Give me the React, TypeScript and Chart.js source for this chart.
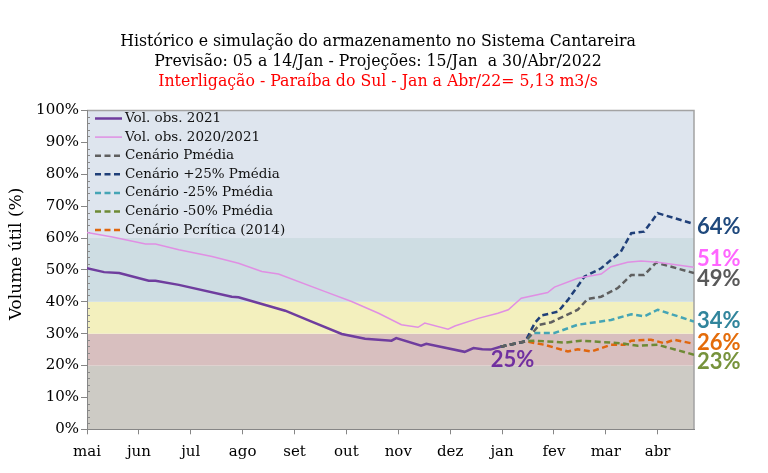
import React, { useEffect, useRef } from "react";
import { Chart, registerables } from "chart.js";

Chart.register(...registerables);

// ---------- data (x = months since 1 May 2021, y = % volume útil) ----------
const MONTHS = ["mai", "jun", "jul", "ago", "set", "out", "nov", "dez", "jan", "fev", "mar", "abr"];
const X_MAX = 11.7;

const TITLE_LINES = [
  "Histórico e simulação do armazenamento no Sistema Cantareira",
  "Previsão: 05 a 14/Jan - Projeções: 15/Jan  a 30/Abr/2022",
];
const SUBTITLE = "Interligação - Paraíba do Sul - Jan a Abr/22= 5,13 m3/s";
const Y_TITLE = "Volume útil (%)";

const OBS_2021: [number, number][] = [
  [0, 50.5], [0.33, 49.3], [0.62, 49.0], [1.19, 46.6], [1.32, 46.6], [1.77, 45.3],
  [2.79, 41.6], [2.92, 41.4], [3.82, 37.2], [4.33, 33.8], [4.91, 29.9], [5.36, 28.4],
  [5.87, 27.8], [5.96, 28.6], [6.44, 26.2], [6.54, 26.8], [7.28, 24.3], [7.45, 25.5],
  [7.62, 25.1], [7.78, 25.0], [7.97, 25.9],
];

const OBS_2020_2021: [number, number][] = [
  [0, 61.7], [0.49, 60.3], [1.13, 58.1], [1.32, 58.1], [1.77, 56.3], [2.41, 54.2],
  [2.92, 52.1], [3.37, 49.5], [3.69, 48.7], [4.59, 43.2], [5.1, 40.1], [5.62, 36.4],
  [6.06, 32.8], [6.38, 32.0], [6.51, 33.3], [6.96, 31.4], [7.09, 32.4], [7.54, 34.8],
  [7.92, 36.4], [8.12, 37.5], [8.37, 41.1], [8.88, 42.9], [9.01, 44.6], [9.46, 47.4],
  [9.91, 48.7], [10.1, 51.0], [10.42, 52.4], [10.68, 52.8], [11.0, 52.4], [11.7, 50.8],
];

const SCEN_START: [number, number][] = [[7.97, 25.9], [8.45, 27.6]];

const SCEN_PMEDIA: [number, number][] = [
  [8.72, 32.8], [8.95, 33.6], [9.46, 37.5], [9.65, 40.9], [9.91, 41.6], [10.23, 44.3],
  [10.49, 48.4], [10.74, 48.4], [10.97, 52.3], [11.7, 49.0],
];
const SCEN_P25: [number, number][] = [
  [8.63, 33.3], [8.76, 35.7], [9.08, 36.9], [9.27, 40.6], [9.59, 47.9], [9.91, 50.5],
  [10.29, 55.7], [10.49, 61.5], [10.74, 62.0], [11.0, 67.8], [11.7, 64.4],
];
const SCEN_M25: [number, number][] = [
  [8.6, 30.2], [9.01, 30.2], [9.46, 32.8], [10.1, 34.3], [10.49, 36.1], [10.74, 35.4],
  [11.0, 37.5], [11.7, 33.8],
];
const SCEN_M50: [number, number][] = [
  [8.63, 27.8], [9.21, 27.2], [9.53, 27.8], [10.29, 27.0], [10.62, 26.2], [11.0, 26.5],
  [11.7, 23.4],
];
const SCEN_PCRIT: [number, number][] = [
  [8.82, 26.5], [9.27, 24.4], [9.46, 25.1], [9.72, 24.4], [10.1, 26.5], [10.36, 26.5],
  [10.49, 27.8], [10.87, 28.1], [11.13, 27.0], [11.32, 28.1], [11.7, 26.8],
];

const SERIES_LABELS = [
  "Vol. obs. 2021",
  "Vol. obs. 2020/2021",
  "Cenário Pmédia",
  "Cenário +25% Pmédia",
  "Cenário -25% Pmédia",
  "Cenário -50% Pmédia",
  "Cenário Pcrítica (2014)",
];

// background bands (% limits)
const BAND_LIMITS = [0, 20, 30, 40, 60, 100];
const BAND_COLORS = ["#cdcbc5", "#d8bfbf", "#f3f0be", "#cedde3", "#dee5ee"];

// end labels
const END_LABELS = ["64%", "51%", "49%", "34%", "26%", "23%"];
const END_LABEL_Y = [63.4, 53.4, 47.1, 33.9, 27.1, 21.1];
const END_LABEL_COLORS = ["#1f497d", "#ff66ff", "#595959", "#31859c", "#e46c0a", "#77933c"];

const LAST_OBS_LABEL = "25%";
const LAST_OBS_POS: [number, number] = [8.2, 21.9];

// ---------- styles ----------
const SERIF = "'DejaVu Serif', serif";
const COLORS = ["#6f3d9e", "#e08fe3", "#5f5f5f", "#1f3f78", "#45a5b5", "#6e8a35", "#e0660e"];

const toPts = (arr: [number, number][]) => arr.map(([x, y]) => ({ x, y }));

const bandsPlugin = {
  id: "bands",
  beforeDraw(chart: any) {
    const { ctx, chartArea: a, scales } = chart;
    const y = scales.y;
    ctx.save();
    for (let i = 0; i < BAND_LIMITS.length - 1; i++) {
      const top = y.getPixelForValue(BAND_LIMITS[i + 1]);
      const bot = y.getPixelForValue(BAND_LIMITS[i]);
      ctx.fillStyle = BAND_COLORS[i];
      ctx.fillRect(a.left, top, a.right - a.left, bot - top);
    }
    // minor ticks every 2%
    ctx.strokeStyle = "#8a8a8a";
    ctx.lineWidth = 1;
    ctx.beginPath();
    for (let v = 2; v < 100; v += 2) {
      if (v % 10 === 0) continue;
      const py = Math.round(y.getPixelForValue(v)) + 0.5;
      ctx.moveTo(a.left, py);
      ctx.lineTo(a.left + 3, py);
    }
    ctx.stroke();
    // top & right border
    ctx.strokeStyle = "#a3a3a3";
    ctx.lineWidth = 1.5;
    ctx.beginPath();
    ctx.moveTo(a.left, a.top);
    ctx.lineTo(a.right, a.top);
    ctx.lineTo(a.right, a.bottom);
    ctx.stroke();
    // y axis title
    ctx.fillStyle = "#000";
    ctx.font = `17px ${SERIF}`;
    ctx.textAlign = "center";
    ctx.textBaseline = "middle";
    ctx.translate(9, (a.top + a.bottom) / 2 - 16);
    ctx.rotate(-Math.PI / 2);
    ctx.fillText(Y_TITLE, 0, 0);
    ctx.restore();
  },
};

const overlayPlugin = {
  id: "overlay",
  afterDatasetsDraw(chart: any) {
    const { ctx, chartArea: a, scales } = chart;
    const x = scales.x;
    const y = scales.y;
    ctx.save();
    // legend inside the plot
    ctx.font = `13.5px ${SERIF}`;
    ctx.textBaseline = "middle";
    ctx.textAlign = "left";
    chart.data.datasets.forEach((ds: any, i: number) => {
      const cy = a.top + 8 + i * 18.6;
      ctx.strokeStyle = ds.borderColor;
      ctx.lineWidth = ds.borderWidth;
      ctx.setLineDash(ds.borderDash || []);
      ctx.beginPath();
      ctx.moveTo(a.left + 8, cy);
      ctx.lineTo(a.left + 35, cy);
      ctx.stroke();
      ctx.setLineDash([]);
      ctx.fillStyle = "#111";
      ctx.fillText(ds.label, a.left + 38, cy);
    });
    // end labels
    ctx.font = `bold 22px Lato, 'Open Sans', sans-serif`;
    END_LABELS.forEach((t, i) => {
      ctx.fillStyle = END_LABEL_COLORS[i];
      ctx.fillText(t, a.right + 3, y.getPixelForValue(END_LABEL_Y[i]));
    });
    ctx.textAlign = "center";
    ctx.fillStyle = "#7030a0";
    ctx.fillText(LAST_OBS_LABEL, x.getPixelForValue(LAST_OBS_POS[0]), y.getPixelForValue(LAST_OBS_POS[1]));
    ctx.restore();
  },
};

export default function App() {
  const ref = useRef<HTMLCanvasElement | null>(null);

  useEffect(() => {
    if (!ref.current) return;
    const dashed = [6, 3.5];
    const series = [
      { data: OBS_2021, dash: [] as number[], width: 2.5 },
      { data: OBS_2020_2021, dash: [] as number[], width: 1.5 },
      { data: [...SCEN_START, ...SCEN_PMEDIA], dash: dashed, width: 2.5 },
      { data: [...SCEN_START, ...SCEN_P25], dash: dashed, width: 2.5 },
      { data: [...SCEN_START, ...SCEN_M25], dash: dashed, width: 2.5 },
      { data: [...SCEN_START, ...SCEN_M50], dash: dashed, width: 2.5 },
      { data: [...SCEN_START, ...SCEN_PCRIT], dash: dashed, width: 2.5 },
    ];
    const chart = new Chart(ref.current, {
      type: "line",
      data: {
        datasets: series.map((s, i) => ({
          label: SERIES_LABELS[i],
          data: toPts(s.data),
          borderColor: COLORS[i],
          backgroundColor: COLORS[i],
          borderWidth: s.width,
          borderDash: s.dash,
          pointRadius: 0,
          tension: 0,
          fill: false,
        })),
      },
      options: {
        animation: false,
        responsive: true,
        maintainAspectRatio: false,
        layout: { padding: { left: 0, right: 12, top: 0, bottom: 0 } },
        plugins: {
          legend: { display: false },
          tooltip: { enabled: false },
          title: {
            display: true,
            text: TITLE_LINES,
            color: "#000",
            font: { family: "'DejaVu Serif Condensed', 'DejaVu Serif', serif", size: 17.5, weight: "normal", lineHeight: "20px" },
            padding: { top: 23, bottom: 0 },
          },
          subtitle: {
            display: true,
            text: SUBTITLE,
            color: "#ff0000",
            font: { family: "'DejaVu Serif Condensed', 'DejaVu Serif', serif", size: 17.5, weight: "normal", lineHeight: "20px" },
            padding: { top: 0, bottom: 19.5 },
          },
        },
        scales: {
          x: {
            type: "linear",
            min: 0,
            max: X_MAX,
            afterBuildTicks: (s: any) => {
              s.ticks = MONTHS.map((_, i) => ({ value: i }));
            },
            afterFit: (s: any) => {
              s.height = 35.7;
            },
            ticks: {
              callback: (v: any) => MONTHS[Math.round(Number(v))] ?? "",
              color: "#000",
              font: { family: SERIF, size: 15 },
              padding: 9,
              maxRotation: 0,
              autoSkip: false,
            },
            grid: { drawOnChartArea: false, tickLength: 5, color: "#868686" },
            border: { color: "#868686", width: 1 },
          },
          y: {
            min: 0,
            max: 100,
            afterFit: (s: any) => {
              s.width = 79;
            },
            ticks: {
              stepSize: 10,
              callback: (v: any) => `${v}%`,
              color: "#000",
              font: { family: SERIF, size: 15 },
              padding: 2,
            },
            grid: { drawOnChartArea: false, tickLength: 6, color: "#868686" },
            border: { color: "#868686", width: 1 },
          },
          y2: {
            position: "right",
            min: 0,
            max: 100,
            display: true,
            afterFit: (s: any) => {
              s.width = 54;
            },
            ticks: { display: false },
            grid: { display: false, drawTicks: false },
            border: { display: false },
          },
        },
      },
      plugins: [bandsPlugin, overlayPlugin],
    });
    return () => chart.destroy();
  }, []);

  return (
    <div style={{ width: 752, height: 457, position: "relative" }}>
      <canvas ref={ref} />
    </div>
  );
}
